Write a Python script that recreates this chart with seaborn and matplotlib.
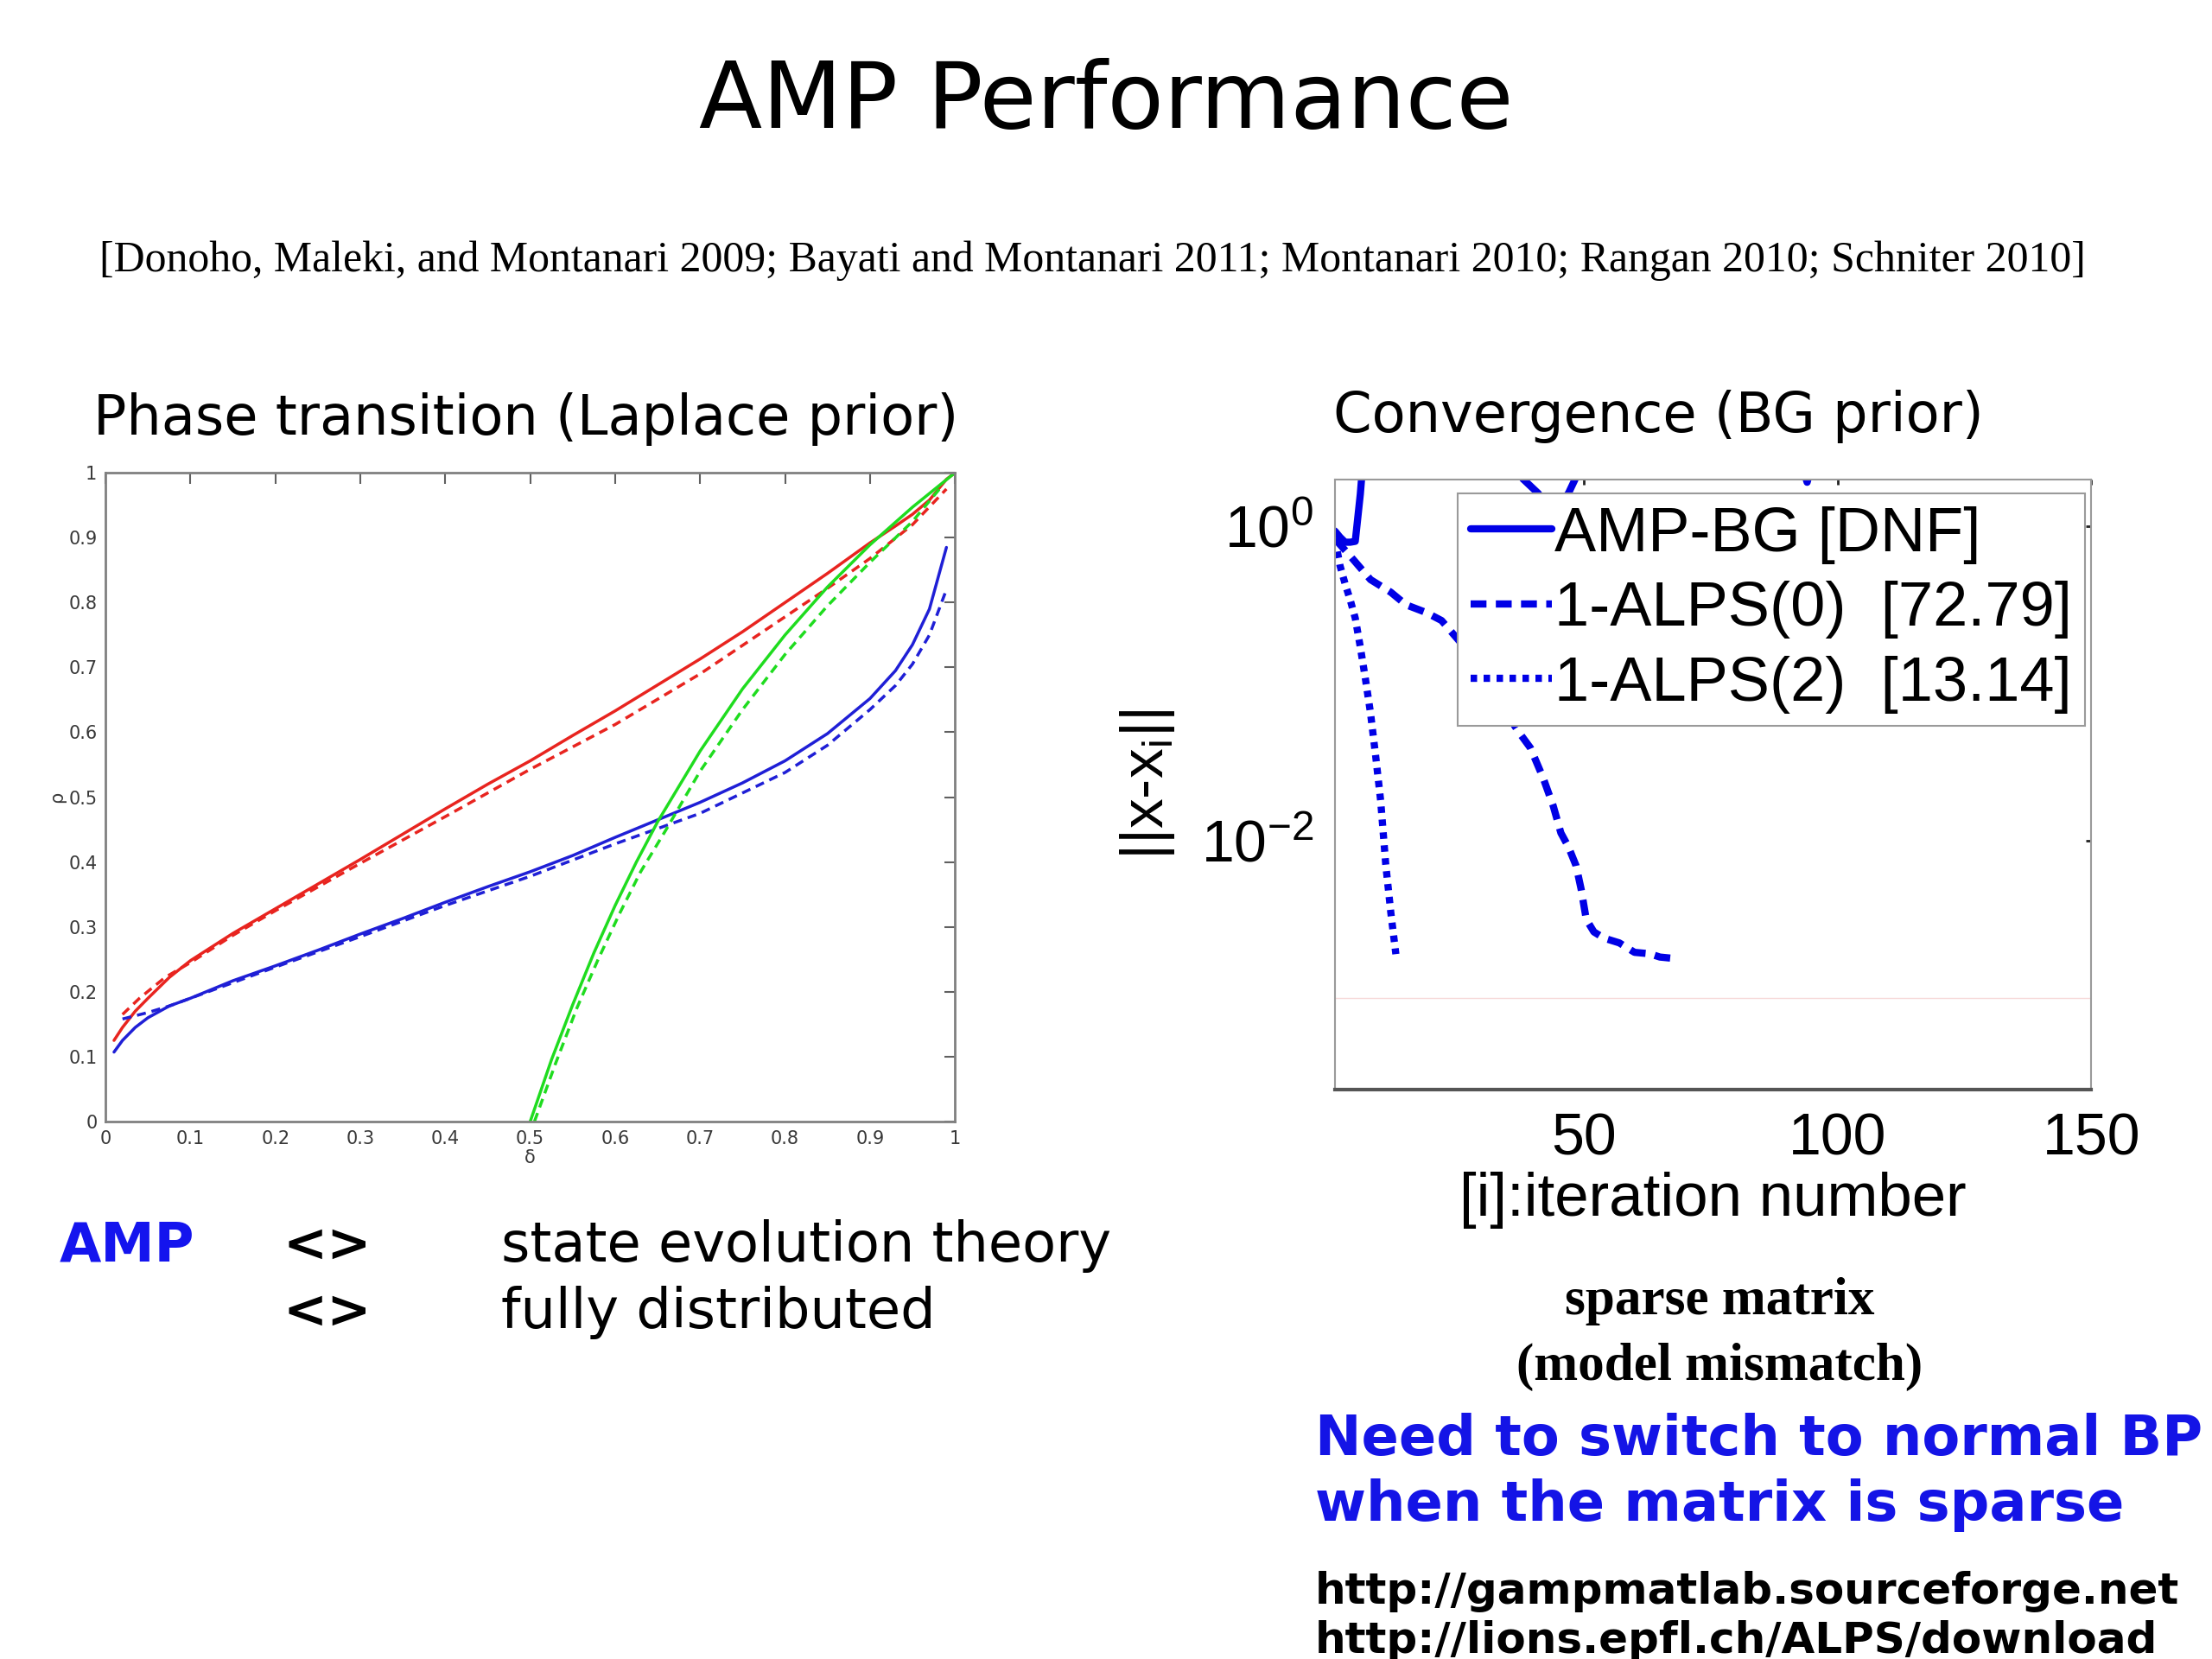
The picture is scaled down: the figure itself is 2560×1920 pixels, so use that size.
import matplotlib
matplotlib.use("Agg")
import matplotlib.pyplot as plt
import seaborn as sns

# ---- phase transition data (left panel) ----
delta_solid = [0.01, 0.02, 0.035, 0.05, 0.075, 0.1, 0.15, 0.2, 0.25, 0.3, 0.35, 0.4, 0.45,
               0.5, 0.55, 0.6, 0.65, 0.7, 0.75, 0.8, 0.85, 0.9, 0.93, 0.95, 0.97, 0.99]
red_solid = [0.125, 0.145, 0.17, 0.19, 0.222, 0.248, 0.29, 0.328, 0.366, 0.404, 0.443, 0.482, 0.52,
             0.556, 0.595, 0.633, 0.673, 0.713, 0.755, 0.8, 0.845, 0.892, 0.918, 0.936, 0.958, 0.99]
blue_solid = [0.107, 0.125, 0.145, 0.16, 0.178, 0.19, 0.217, 0.24, 0.264, 0.289, 0.313, 0.338, 0.362,
              0.385, 0.41, 0.438, 0.465, 0.492, 0.522, 0.556, 0.598, 0.652, 0.695, 0.735, 0.79, 0.885]

delta_red_dash = [0.02, 0.04, 0.07, 0.1, 0.15, 0.2, 0.3, 0.4, 0.5, 0.6, 0.7, 0.8, 0.85, 0.9, 0.95, 0.99]
red_dash = [0.165, 0.19, 0.222, 0.245, 0.287, 0.325, 0.398, 0.47, 0.543, 0.612, 0.69, 0.778, 0.822,
            0.868, 0.92, 0.975]

delta_blue_dash = [0.02, 0.035, 0.05, 0.075, 0.1, 0.2, 0.3, 0.4, 0.5, 0.6, 0.7, 0.8, 0.85, 0.9,
                   0.93, 0.95, 0.97, 0.99]
blue_dash = [0.158, 0.163, 0.168, 0.178, 0.19, 0.238, 0.285, 0.333, 0.378, 0.428, 0.475, 0.538, 0.58,
             0.635, 0.672, 0.705, 0.75, 0.82]

delta_green = [0.5, 0.525, 0.55, 0.575, 0.6, 0.625, 0.65, 0.7, 0.75, 0.8, 0.85, 0.9, 0.95, 1.0]
green_solid = [0.0, 0.095, 0.18, 0.26, 0.333, 0.4, 0.462, 0.571, 0.667, 0.75, 0.824, 0.889, 0.947, 1.0]
delta_green_dash = [0.505, 0.53, 0.555, 0.58, 0.605, 0.63, 0.66, 0.7, 0.75, 0.8, 0.85, 0.9, 0.95, 0.985]
green_dash = [0.0, 0.09, 0.175, 0.25, 0.32, 0.385, 0.45, 0.54, 0.635, 0.72, 0.795, 0.862, 0.925, 0.98]

# ---- convergence data (right panel) ----
amp_iter = [1, 2, 3, 4, 5, 6, 7, 10, 15, 20, 25, 30, 35, 38, 41, 44, 47, 48.5, 52, 60, 70, 80,
            88, 94, 100, 110, 120, 135, 150]
amp_err = [0.93, 0.85, 0.79, 0.79, 0.8, 1.6, 4.0, 25, 150, 400, 300, 80, 6, 2.0, 1.62, 1.2, 1.62,
           2.05, 12, 90, 300, 120, 8, 1.9, 10, 200, 500, 900, 1500]

alps0_iter = [1, 4, 8, 12, 15, 19, 22, 26, 30, 34, 37, 39.5, 42, 44, 45.5, 47, 48.5, 49.5, 50.5,
              52, 54, 57, 60, 63, 65, 68]
alps0_err = [0.83, 0.646, 0.457, 0.38, 0.316, 0.282, 0.251, 0.178, 0.112, 0.0708, 0.0501, 0.0389,
             0.0251, 0.0166, 0.0112, 0.00912, 0.00692, 0.0049, 0.00316, 0.00263, 0.0024, 0.00224,
             0.00195, 0.00191, 0.00182, 0.00178]

alps2_iter = [1, 2, 3, 4, 5, 6, 7, 8, 9, 10, 11, 12, 13]
alps2_err = [0.83, 0.56, 0.43, 0.34, 0.26, 0.17, 0.107, 0.065, 0.035, 0.018, 0.0071, 0.0035, 0.0019]

legend_labels = ["AMP-BG [DNF]", "1-ALPS(0)  [72.79]", "1-ALPS(2)  [13.14]"]

RED, BLUE, GREEN = "#e8241f", "#1f1fd6", "#1fdc1f"
LBLUE = "#0000e6"

sns.set_style("white")
plt.rcParams["font.family"] = ["DejaVu Sans"]
plt.rcParams["mathtext.fontset"] = "custom"
plt.rcParams["mathtext.rm"] = "Liberation Sans"
plt.rcParams["axes.unicode_minus"] = False
plt.rcParams["text.color"] = "black"
plt.rcParams["axes.labelcolor"] = "black"
plt.rcParams["xtick.color"] = "black"
plt.rcParams["ytick.color"] = "black"

fig = plt.figure(figsize=(25.6, 19.2), dpi=100)

# ---------------- left panel ----------------
ax1 = fig.add_axes([0.0477, 0.324, 0.384, 0.391])
lw = 2.5
sns.lineplot(x=delta_solid + [1.0], y=red_solid + [1.0], ax=ax1, color=RED, lw=lw, estimator=None)
sns.lineplot(x=delta_red_dash, y=red_dash, ax=ax1, color=RED, lw=lw, estimator=None,
             linestyle=(0, (3, 2)))
sns.lineplot(x=delta_solid, y=blue_solid, ax=ax1, color=BLUE, lw=lw, estimator=None)
sns.lineplot(x=delta_blue_dash, y=blue_dash, ax=ax1, color=BLUE, lw=lw, estimator=None,
             linestyle=(0, (3, 2)))
sns.lineplot(x=delta_green, y=green_solid, ax=ax1, color=GREEN, lw=lw, estimator=None)
sns.lineplot(x=delta_green_dash, y=green_dash, ax=ax1, color=GREEN, lw=lw, estimator=None,
             linestyle=(0, (3, 2)))

ax1.set_xlim(0, 1)
ax1.set_ylim(0, 1)
ticks = [i / 10 for i in range(11)]
tick_labels = ["0"] + [f"{t:.1f}" for t in ticks[1:-1]] + ["1"]
ax1.set_xticks(ticks, tick_labels)
ax1.set_yticks(ticks, tick_labels)
ax1.tick_params(direction="in", top=True, right=True, length=9, width=1.5, color="#606060",
                labelsize=15, labelcolor="#383838", pad=7)
for sp in ax1.spines.values():
    sp.set_color("#808080")
    sp.set_linewidth(2)
ax1.set_xlabel("δ", fontsize=15, color="#383838", labelpad=2)
ax1.set_ylabel("ρ", fontsize=15, color="#383838", labelpad=2)

# ---------------- right panel ----------------
ax2 = fig.add_axes([0.6035, 0.343, 0.342, 0.368])
lw2 = 6
ax2.axhline(1e-3, color="#f6d8d8", lw=1)
sns.lineplot(x=amp_iter, y=amp_err, ax=ax2, color=LBLUE, lw=lw2, estimator=None,
             label=legend_labels[0])
sns.lineplot(x=alps0_iter, y=alps0_err, ax=ax2, color=LBLUE, lw=lw2, estimator=None,
             linestyle=(0, (2.2, 1.3)), label=legend_labels[1])
sns.lineplot(x=alps2_iter, y=alps2_err, ax=ax2, color=LBLUE, lw=lw2, estimator=None,
             linestyle=(0, (0.9, 0.9)), label=legend_labels[2])
ax2.set_yscale("log")
ax2.set_xlim(1, 150)
ax2.set_ylim(2.6e-4, 1.98)
ax2.set_xticks([50, 100, 150], ["50", "100", "150"])
ax2.set_yticks([1e-2, 1], [r"$\mathregular{10^{-2}}$", r"$\mathregular{10^{0}}$"])
ax2.minorticks_off()
ax2.tick_params(direction="in", top=True, right=True, length=4, width=2, color="#222222",
                labelsize=49, pad=18)
for name, sp in ax2.spines.items():
    sp.set_color("#9a9a9a")
    sp.set_linewidth(1.5)
ax2.spines["bottom"].set_color("#555555")
ax2.spines["bottom"].set_linewidth(3)
ax2.set_xlabel("[i]:iteration number", fontsize=51, family="Liberation Sans", labelpad=4)
ax2.set_ylabel(r"||x-x$_{\mathregular{i}}$||", fontsize=50, family="Liberation Sans", labelpad=20)
for lab in ax2.get_xticklabels() + ax2.get_yticklabels():
    lab.set_family("Liberation Sans")

leg = ax2.legend(loc="upper right", bbox_to_anchor=(0.991, 0.977), borderaxespad=0,
                 prop={"family": "Liberation Sans", "size": 52},
                 handlelength=1.3, handletextpad=0.05, labelspacing=0.27, borderpad=0.2,
                 fancybox=False, framealpha=1, edgecolor="#9a9a9a")
leg.get_frame().set_linewidth(1.5)

# ---------------- slide text ----------------
W, H = 2560, 1920


def put(x, y, s, **kw):
    fig.text(x / W, 1 - y / H, s, va="center", **kw)


put(1280, 119, "AMP Performance", fontsize=77, ha="center")
put(1264, 302, "[Donoho, Maleki, and Montanari 2009; Bayati and Montanari 2011; Montanari 2010; "
    "Rangan 2010; Schniter 2010]", fontsize=35.8, ha="center", family="Liberation Serif")
put(108, 485, "Phase transition (Laplace prior)", fontsize=46, ha="left")
put(1543, 482, "Convergence (BG prior)", fontsize=46, ha="left")

put(69, 1442, "AMP", fontsize=45, weight="bold", color="#1414ee", ha="left")
put(327, 1442, "<>", fontsize=44, weight="bold", ha="left")
put(327, 1519, "<>", fontsize=44, weight="bold", ha="left")
put(580, 1442, "state evolution theory", fontsize=46, ha="left")
put(580, 1519, "fully distributed", fontsize=46, ha="left")

put(1990, 1506, "sparse matrix", fontsize=44, weight="bold", ha="center", family="Liberation Serif")
put(1990, 1582, "(model mismatch)", fontsize=44, weight="bold", ha="center", family="Liberation Serif")
put(1522, 1666, "Need to switch to normal BP", fontsize=46, weight="bold", color="#1414e6", ha="left")
put(1522, 1742, "when the matrix is sparse", fontsize=46, weight="bold", color="#1414e6", ha="left")
put(1522, 1842, "http://gampmatlab.sourceforge.net", fontsize=36, weight="bold", ha="left")
put(1522, 1899, "http://lions.epfl.ch/ALPS/download", fontsize=36, weight="bold", ha="left")

fig.savefig("out.png", dpi=100, facecolor="white")
